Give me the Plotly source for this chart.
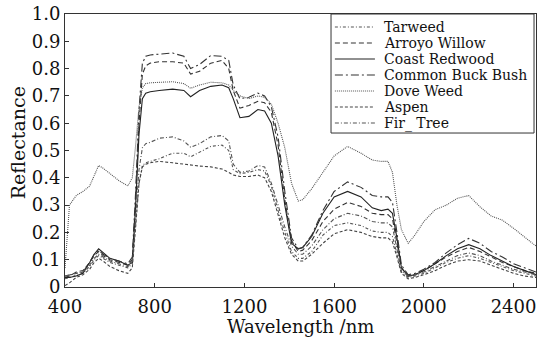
import plotly.graph_objects as go

# Wavelength sampling (nm)
wavelength = [400, 420, 450, 480, 510, 530, 550, 570, 600, 640, 680, 700, 715, 730, 745, 760,
              780, 820, 880, 930, 960, 1000, 1050, 1100, 1130, 1150, 1180, 1220, 1260, 1290,
              1320, 1350, 1380, 1410, 1440, 1460, 1500, 1550, 1600, 1660, 1720, 1770, 1810,
              1840, 1860, 1880, 1900, 1930, 1960, 2000, 2050, 2100, 2150, 2200, 2250, 2300,
              2350, 2400, 2450, 2500]

tarweed = [0.03, 0.035, 0.045, 0.05, 0.075, 0.10, 0.115, 0.105, 0.09, 0.08, 0.07, 0.085, 0.22, 0.38,
           0.445, 0.455, 0.46, 0.47, 0.49, 0.49, 0.477, 0.495, 0.515, 0.52, 0.50, 0.43, 0.415, 0.42,
           0.43, 0.425, 0.37, 0.28, 0.20, 0.13, 0.105, 0.105, 0.13, 0.19, 0.225, 0.235, 0.225, 0.205,
           0.20, 0.20, 0.185, 0.12, 0.055, 0.035, 0.04, 0.05, 0.07, 0.09, 0.105, 0.115, 0.105, 0.09,
           0.075, 0.06, 0.05, 0.04]

arroyo_willow = [0.035, 0.04, 0.055, 0.06, 0.09, 0.115, 0.13, 0.115, 0.10, 0.09, 0.08, 0.10, 0.32, 0.60,
                 0.78, 0.81, 0.82, 0.825, 0.825, 0.82, 0.78, 0.79, 0.82, 0.83, 0.80, 0.72, 0.655, 0.665,
                 0.68, 0.675, 0.64, 0.52, 0.32, 0.17, 0.13, 0.135, 0.17, 0.24, 0.285, 0.31, 0.295, 0.27,
                 0.265, 0.265, 0.25, 0.16, 0.07, 0.04, 0.045, 0.06, 0.085, 0.11, 0.13, 0.145, 0.13, 0.11,
                 0.09, 0.075, 0.06, 0.05]

coast_redwood = [0.035, 0.035, 0.04, 0.05, 0.09, 0.12, 0.14, 0.125, 0.105, 0.095, 0.08, 0.09, 0.30, 0.56,
                 0.69, 0.71, 0.715, 0.72, 0.725, 0.72, 0.697, 0.72, 0.735, 0.74, 0.73, 0.69, 0.62, 0.625,
                 0.65, 0.645, 0.60, 0.48, 0.30, 0.16, 0.14, 0.145, 0.185, 0.27, 0.33, 0.35, 0.33, 0.29,
                 0.28, 0.285, 0.27, 0.18, 0.07, 0.04, 0.045, 0.06, 0.085, 0.115, 0.14, 0.155, 0.14, 0.115,
                 0.095, 0.075, 0.06, 0.045]

common_buck_bush = [0.04, 0.045, 0.05, 0.055, 0.09, 0.12, 0.135, 0.12, 0.105, 0.095, 0.085, 0.11, 0.35, 0.65,
                    0.82, 0.845, 0.85, 0.853, 0.857, 0.845, 0.80, 0.815, 0.848, 0.845, 0.83, 0.74, 0.69, 0.695,
                    0.71, 0.70, 0.66, 0.55, 0.35, 0.18, 0.14, 0.145, 0.19, 0.28, 0.35, 0.385, 0.365, 0.335,
                    0.33, 0.33, 0.31, 0.20, 0.08, 0.045, 0.05, 0.065, 0.09, 0.125, 0.155, 0.178, 0.16, 0.13,
                    0.11, 0.085, 0.07, 0.055]

dove_weed = [0.07, 0.30, 0.335, 0.35, 0.37, 0.41, 0.445, 0.435, 0.415, 0.39, 0.37, 0.40, 0.52, 0.66,
             0.73, 0.745, 0.748, 0.75, 0.752, 0.745, 0.728, 0.74, 0.75, 0.748, 0.74, 0.72, 0.70, 0.69,
             0.70, 0.695, 0.67, 0.60, 0.51, 0.38, 0.315, 0.32, 0.36, 0.42, 0.48, 0.515, 0.49, 0.465,
             0.46, 0.46, 0.42, 0.30, 0.21, 0.16, 0.19, 0.24, 0.283, 0.30, 0.325, 0.335, 0.294, 0.26,
             0.245, 0.215, 0.184, 0.15]

aspen = [0.005, 0.015, 0.035, 0.045, 0.065, 0.09, 0.105, 0.095, 0.075, 0.06, 0.05, 0.07, 0.22, 0.38,
         0.44, 0.45, 0.455, 0.46, 0.455, 0.45, 0.445, 0.443, 0.44, 0.432, 0.42, 0.41, 0.405, 0.405,
         0.41, 0.40, 0.35, 0.26, 0.18, 0.12, 0.095, 0.095, 0.12, 0.16, 0.195, 0.21, 0.20, 0.185,
         0.18, 0.18, 0.165, 0.11, 0.05, 0.03, 0.035, 0.045, 0.06, 0.08, 0.095, 0.10, 0.095, 0.08,
         0.065, 0.05, 0.04, 0.035]

fir_tree = [0.04, 0.045, 0.05, 0.055, 0.08, 0.105, 0.12, 0.11, 0.095, 0.085, 0.075, 0.09, 0.25, 0.43,
            0.51, 0.525, 0.53, 0.545, 0.55, 0.535, 0.512, 0.525, 0.55, 0.555, 0.535, 0.45, 0.42, 0.425,
            0.445, 0.44, 0.38, 0.30, 0.22, 0.15, 0.12, 0.12, 0.15, 0.21, 0.25, 0.27, 0.26, 0.24,
            0.235, 0.235, 0.22, 0.14, 0.06, 0.04, 0.045, 0.055, 0.075, 0.095, 0.115, 0.125, 0.115, 0.095,
            0.08, 0.065, 0.055, 0.045]

names = ["Tarweed", "Arroyo Willow", "Coast Redwood", "Common Buck Bush", "Dove Weed", "Aspen", "Fir_ Tree"]
series = [tarweed, arroyo_willow, coast_redwood, common_buck_bush, dove_weed, aspen, fir_tree]
dashes = ["3px,2px,1px,2px", "5px,3px", "solid", "8px,3px,2px,3px", "1px,1px", "3px,2px", "4px,2px,1px,2px"]
colors = ["#555555", "#333333", "#222222", "#333333", "#555555", "#444444", "#555555"]

x_ticks = [400, 800, 1200, 1600, 2000, 2400]
y_ticks = [0, 0.1, 0.2, 0.3, 0.4, 0.5, 0.6, 0.7, 0.8, 0.9, 1.0]
y_tick_text = ["0", "0.1", "0.2", "0.3", "0.4", "0.5", "0.6", "0.7", "0.8", "0.9", "1.0"]

FONT = "'DejaVu Serif', 'Liberation Serif', serif"

fig = go.Figure()
for name, vals, dash, col in zip(names, series, dashes, colors):
    fig.add_trace(go.Scatter(x=wavelength, y=vals, mode="lines", name=name,
                             line=dict(color=col, width=1.1, dash=dash), showlegend=False))

# Boxed key in the upper right corner
x0, x1 = 0.5648, 0.9958
fig.add_shape(type="rect", xref="paper", yref="paper", x0=x0, x1=x1, y0=0.564, y1=1.0,
              line=dict(color="#333333", width=1), fillcolor="white", layer="above")
for i, (name, dash, col) in enumerate(zip(names, dashes, colors)):
    yy = (287 - 27 - 16 * i) / 273
    fig.add_shape(type="line", xref="paper", yref="paper", x0=0.573, x1=0.658, y0=yy, y1=yy,
                  line=dict(color=col, width=1.1, dash=dash), layer="above")
    fig.add_annotation(xref="paper", yref="paper", x=0.673, y=yy, text=name, showarrow=False,
                       xanchor="left", yanchor="middle", font=dict(family=FONT, size=14, color="#111"))

fig.add_annotation(xref="paper", yref="paper", x=0.5, y=-0.1465, text="Wavelength /nm", showarrow=False,
                   xanchor="center", yanchor="middle", font=dict(family=FONT, size=18, color="#111"))
fig.add_annotation(xref="paper", yref="paper", x=-0.0998, y=0.53, text="Reflectance", showarrow=False,
                   textangle=-90, xanchor="center", yanchor="middle",
                   font=dict(family=FONT, size=19, color="#111"))

fig.update_xaxes(range=[400, 2500], tickvals=x_ticks, ticks="inside", ticklen=4, tickcolor="#333",
                 showline=True, linecolor="#333", linewidth=1, mirror=True, showgrid=False,
                 zeroline=False, ticklabelstandoff=3,
                 tickfont=dict(family=FONT, size=18, color="#111"))
fig.update_yaxes(range=[0, 1], tickvals=y_ticks, ticktext=y_tick_text, ticks="inside", ticklen=4,
                 tickcolor="#333", showline=True, linecolor="#333", linewidth=1, mirror=True,
                 showgrid=False, zeroline=False, tickfont=dict(family=FONT, size=18, color="#111"))

fig.update_layout(width=537, height=339, margin=dict(l=65, r=1, t=14, b=52),
                  plot_bgcolor="white", paper_bgcolor="white")

fig.write_html("out.html")
